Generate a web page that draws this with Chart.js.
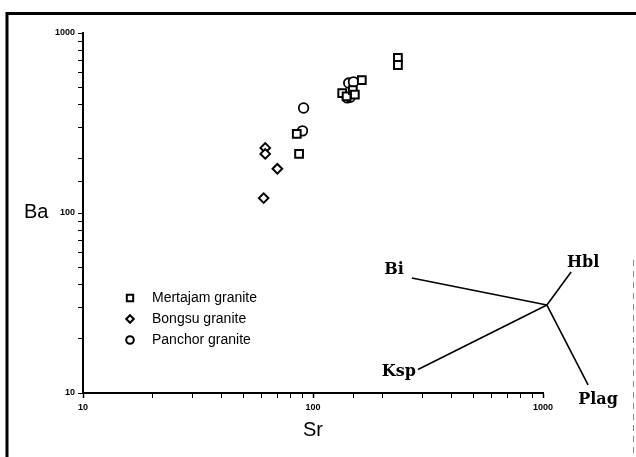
<!DOCTYPE html>
<html><head><meta charset="utf-8">
<script src="https://cdn.jsdelivr.net/npm/chart.js@4/dist/chart.umd.min.js"></script>
<style>html,body{margin:0;padding:0;background:#fff}#wrap{width:636px;height:457px;position:relative}</style>
</head><body><div id="wrap"><canvas id="c" width="636" height="457"></canvas></div>
<script>
// ---- data ----
const xTickLabels = [10, 100, 1000];
const yTickLabels = [10, 100, 1000];
const seriesNames = ['Mertajam granite', 'Bongsu granite', 'Panchor granite'];
const mertajamSr = [234, 234, 134, 140, 149, 152, 163, 85, 87];
const mertajamBa = [727, 664, 464, 445, 482, 455, 548, 275, 213];
const bongsuSr = [62, 62, 70, 61];
const bongsuBa = [230, 213, 176, 121];
const panchorSr = [91, 90, 143, 150, 141, 145];
const panchorBa = [383, 286, 527, 535, 436, 440];
// vector diagram (mineral fractionation vectors)
const vectorOriginSr = 1040;
const vectorOriginBa = 30.8;
const mineralNames = ['Bi', 'Hbl', 'Ksp', 'Plag'];
const mineralEndSr = [269, 1325, 286, 1570];
const mineralEndBa = [43.5, 47, 13.5, 11.1];

const pts = (xs, ys) => xs.map((x, i) => ({x, y: ys[i]}));

const datasets = [
  {label: seriesNames[0], data: pts(mertajamSr, mertajamBa), pointStyle: 'rect', pointRadius: 5.5, borderWidth: 2},
  {label: seriesNames[1], data: pts(bongsuSr, bongsuBa), pointStyle: 'rectRot', pointRadius: 4.8, borderWidth: 2},
  {label: seriesNames[2], data: pts(panchorSr, panchorBa), pointStyle: 'circle', pointRadius: 4.8, borderWidth: 1.8}
].map(d => Object.assign(d, {type: 'scatter', borderColor: '#000', backgroundColor: '#fff', pointBorderColor: '#000', pointBackgroundColor: '#fff', clip: false}));

mineralNames.forEach((n, i) => {
  datasets.push({
    type: 'line', label: n, isVector: true,
    data: [{x: vectorOriginSr, y: vectorOriginBa}, {x: mineralEndSr[i], y: mineralEndBa[i]}],
    borderColor: '#000', borderWidth: 1.6, pointRadius: 0, showLine: true, clip: false, fill: false
  });
});

const labelOffsets = {Bi: [-8, -4, 'right', 'bottom'], Hbl: [12, -5, 'center', 'bottom'], Ksp: [-2, 6, 'right', 'bottom'], Plag: [10, 7, 'center', 'top']};

const decor = {
  id: 'decor',
  afterDraw(chart) {
    const ctx = chart.ctx, xs = chart.scales.x, ys = chart.scales.y;
    ctx.save();
    // frame
    ctx.strokeStyle = '#000';
    ctx.lineWidth = 3;
    ctx.beginPath(); ctx.moveTo(7, 457); ctx.lineTo(7, 13.5); ctx.lineTo(636, 13.5); ctx.stroke();
    ctx.lineWidth = 1; ctx.strokeStyle = '#888';
    ctx.setLineDash([6, 5]);
    ctx.beginPath(); ctx.moveTo(633.5, 260); ctx.lineTo(633.5, 457); ctx.stroke();
    ctx.setLineDash([]);
    // axis titles
    ctx.fillStyle = '#000';
    ctx.font = '20px "Liberation Sans", Arial, sans-serif';
    ctx.textAlign = 'left'; ctx.textBaseline = 'middle';
    ctx.fillText('Ba', 24, ys.getPixelForValue(100) - 1);
    ctx.textAlign = 'center'; ctx.textBaseline = 'top';
    ctx.fillText('Sr', xs.getPixelForValue(100), 420);
    // mineral labels
    ctx.font = 'bold 16px "DejaVu Serif", "Liberation Serif", serif';
    mineralNames.forEach((n, i) => {
      const px = xs.getPixelForValue(mineralEndSr[i]);
      const py = ys.getPixelForValue(mineralEndBa[i]);
      const o = labelOffsets[n];
      ctx.textAlign = o[2]; ctx.textBaseline = o[3];
      ctx.fillText(n, px + o[0], py + o[1] + (o[3] === 'bottom' ? 4 : 0));
    });
    // legend
    ctx.font = '14px "Liberation Sans", Arial, sans-serif';
    ctx.textAlign = 'left'; ctx.textBaseline = 'middle';
    const lx = 130, ly0 = 298, dy = 21;
    for (let i = 0; i < 3; i++) {
      const ds = chart.data.datasets[i];
      const y = ly0 + i * dy;
      ctx.lineWidth = 2; ctx.strokeStyle = '#000'; ctx.fillStyle = '#fff';
      Chart.helpers.drawPoint(ctx, {pointStyle: ds.pointStyle, radius: i === 0 ? 4.5 : 3.8, borderWidth: 2}, lx, y);
      ctx.fillStyle = '#000';
      ctx.fillText(ds.label, 152, y);
    }
    ctx.restore();
  }
};

new Chart(document.getElementById('c'), {
  data: {datasets},
  options: {
    responsive: false, animation: false, devicePixelRatio: 1,
    layout: {padding: {left: 40, right: 93, top: 33, bottom: 30}},
    plugins: {legend: {display: false}, tooltip: {enabled: false}},
    scales: {
      x: {
        type: 'logarithmic', min: 10, max: 1000,
        afterFit: s => { s.height = 34; },
        border: {color: '#000', width: 2},
        grid: {drawOnChartArea: false, drawTicks: true, tickLength: 5, color: '#000', tickWidth: c => xTickLabels.includes(c.tick && c.tick.value) ? 1.5 : 1},
        ticks: {
          autoSkip: false, maxRotation: 0, padding: 4, color: '#000',
          font: {size: 9, family: '"Liberation Sans Narrow", "Liberation Sans", sans-serif', weight: 'bold'},
          callback: v => xTickLabels.includes(v) ? String(v) : ''
        }
      },
      y: {
        type: 'logarithmic', min: 10, max: 1000,
        afterFit: s => { s.width = 43; },
        border: {color: '#000', width: 2},
        grid: {drawOnChartArea: false, drawTicks: true, tickLength: 5, color: '#000'},
        ticks: {
          autoSkip: false, padding: 3, color: '#000',
          font: {size: 9, family: '"Liberation Sans Narrow", "Liberation Sans", sans-serif', weight: 'bold'},
          callback: v => yTickLabels.includes(v) ? String(v) : ''
        }
      }
    }
  },
  plugins: [decor]
});
</script>
</body></html>
